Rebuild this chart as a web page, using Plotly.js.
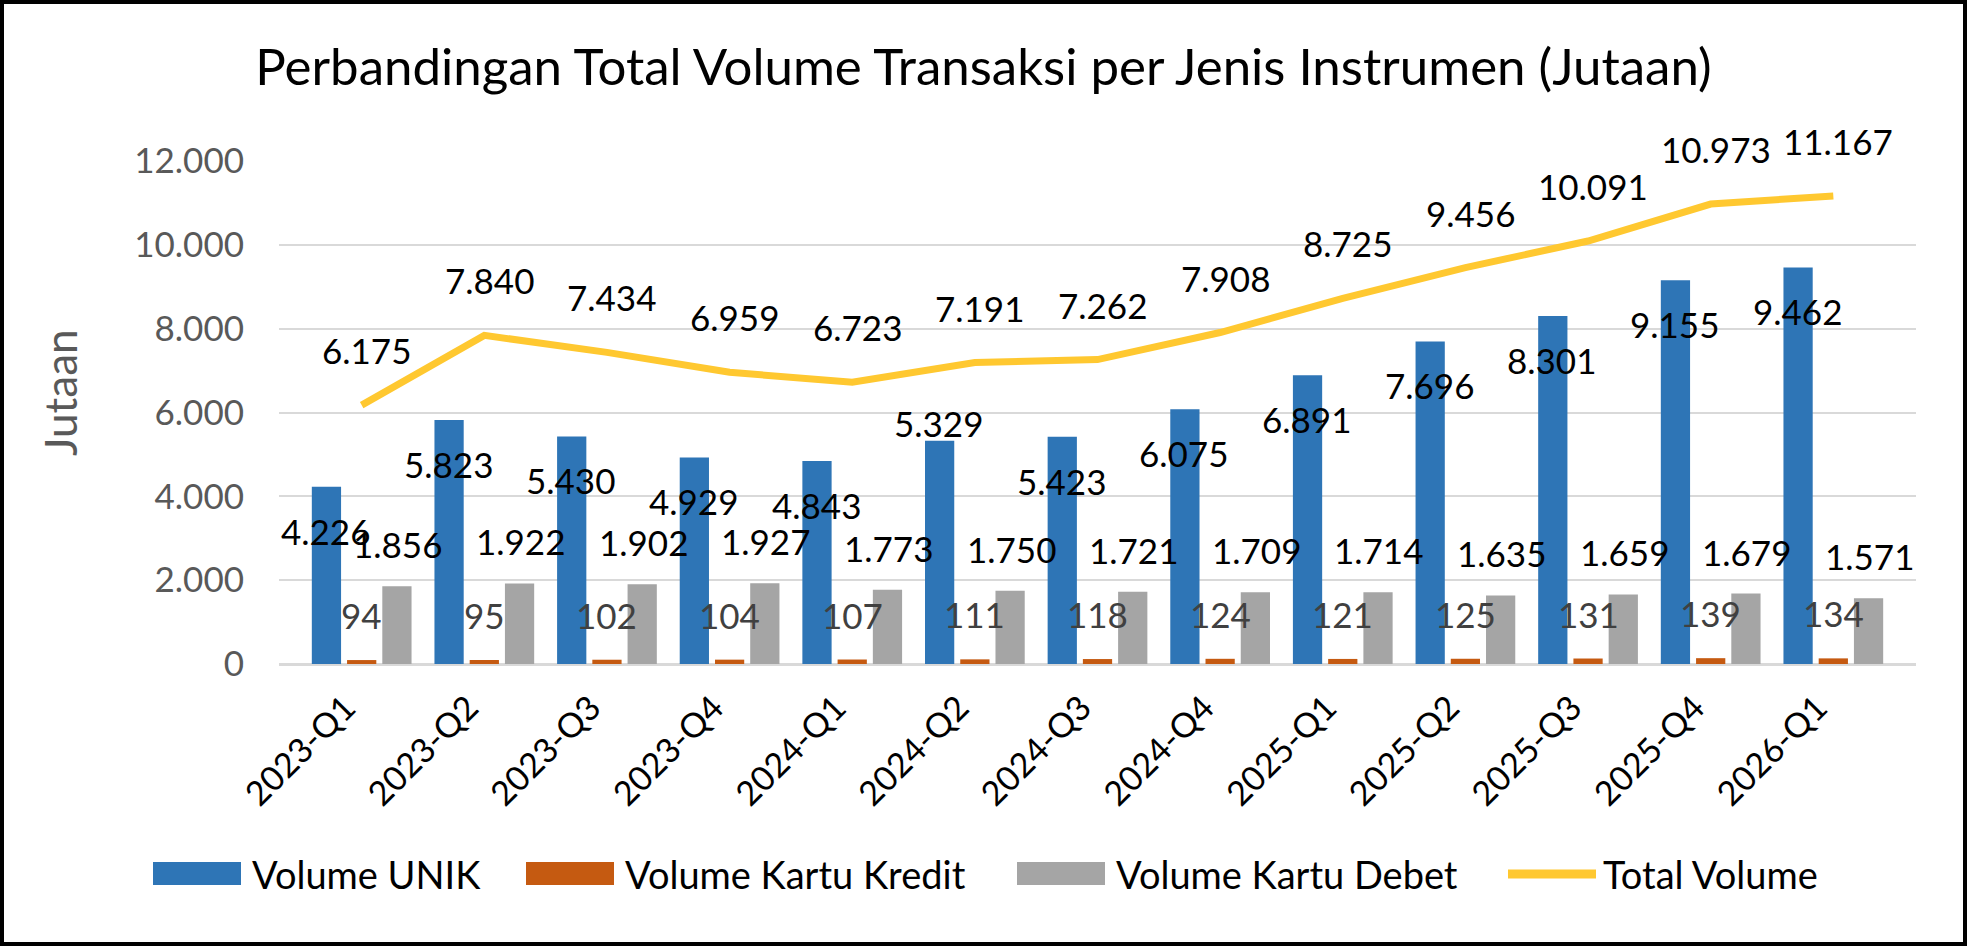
<!DOCTYPE html>
<html>
<head>
<meta charset="utf-8">
<script src="https://cdn.plot.ly/plotly-3.0.1.min.js"></script>
<style>
  body { margin: 0; background: #fff; }
  #chart { width: 1967px; height: 946px; }
  #frame { position: absolute; left: 0; top: 0; width: 1967px; height: 946px;
           border: 4px solid #000; box-sizing: border-box; pointer-events: none; }
</style>
</head>
<body>
<div id="chart"></div>
<div id="frame"></div>
<script>
// data (juta transaksi)
const quarters = ['2023-Q1', '2023-Q2', '2023-Q3', '2023-Q4', '2024-Q1', '2024-Q2', '2024-Q3',
                  '2024-Q4', '2025-Q1', '2025-Q2', '2025-Q3', '2025-Q4', '2026-Q1'];
const volUnik   = [4226, 5823, 5430, 4929, 4843, 5329, 5423, 6075, 6891, 7696, 8301, 9155, 9462];
const volKredit = [94, 95, 102, 104, 107, 111, 118, 124, 121, 125, 131, 139, 134];
const volDebet  = [1856, 1922, 1902, 1927, 1773, 1750, 1721, 1709, 1714, 1635, 1659, 1679, 1571];
const volTotal  = [6175, 7840, 7434, 6959, 6723, 7191, 7262, 7908, 8725, 9456, 10091, 10973, 11167];

const FONT = 'Lato, "Open Sans", sans-serif';
const W = 1967, H = 946;
const margin = {l: 279, r: 51, t: 161, b: 282};
const bargap = 0.138, bargroupgap = 0.17;

const plotW = W - margin.l - margin.r;
const plotH = H - margin.t - margin.b;
// largeur d'un "slot" de barre, pour décaler les étiquettes
const slot = (plotW / quarters.length) * (1 - bargap) / 3;

// pixels -> coordonnées paper
const px = x => (x - margin.l) / plotW;
const py = y => (H - margin.b - y) / plotH;

// séparateur de milliers "."
function fmt(v) {
    return String(v).replace(/\B(?=(\d{3})+(?!\d))/g, '.');
}

// l'étiquette de 2024-Q2 est posée au-dessus de la barre, les autres dedans
const unikLabelAbove = ['2024-Q2'];

function labels(values, xshift, yshift, color) {
    return values.map((v, i) => ({
        x: quarters[i], y: v, xref: 'x', yref: 'y',
        text: fmt(v), showarrow: false,
        xshift: xshift,
        yshift: (typeof yshift === 'function') ? yshift(i) : yshift,
        yanchor: 'middle',
        font: {family: FONT, size: 35, color: color}
    }));
}

let data = [
    {
        type: 'bar', name: 'Volume UNIK', x: quarters, y: volUnik,
        marker: {color: '#2E75B6'}, hoverinfo: 'skip'
    },
    {
        type: 'bar', name: 'Volume Kartu Kredit', x: quarters, y: volKredit,
        marker: {color: '#C55A11'}, hoverinfo: 'skip'
    },
    {
        type: 'bar', name: 'Volume Kartu Debet', x: quarters, y: volDebet,
        marker: {color: '#A5A5A5'}, hoverinfo: 'skip'
    },
    {
        type: 'scatter', mode: 'lines', name: 'Total Volume', x: quarters, y: volTotal,
        line: {color: '#FFC830', width: 7}, hoverinfo: 'skip'
    }
];

let annotations = [].concat(
    labels(volUnik, -slot, i => unikLabelAbove.includes(quarters[i]) ? 18 : -44, '#000'),
    labels(volKredit, 0, 45, '#404040'),
    labels(volDebet, slot, 42, '#000'),
    labels(volTotal, 5, 55, '#000')
);

// titre de l'axe Y, un peu au-dessus du milieu comme dans Excel
annotations.push({
    xref: 'paper', yref: 'paper', x: px(60), y: py(392),
    xanchor: 'center', yanchor: 'middle', textangle: -90, showarrow: false,
    text: 'Jutaan', font: {family: FONT, size: 44, color: '#595959'}
});

// légende façon Excel : grands rectangles et trait épais
const legendLeft = [153, 526, 1017, 1504];
const legendMid = 874;
let shapes = [];
data.forEach((tr, i) => {
    let x0 = legendLeft[i];
    if (tr.type === 'bar') {
        shapes.push({
            type: 'rect', xref: 'paper', yref: 'paper',
            x0: px(x0), x1: px(x0 + 88), y0: py(legendMid - 12), y1: py(legendMid + 11),
            fillcolor: tr.marker.color, line: {width: 0}
        });
    } else {
        shapes.push({
            type: 'line', xref: 'paper', yref: 'paper',
            x0: px(x0 + 4), x1: px(x0 + 92), y0: py(legendMid), y1: py(legendMid),
            line: {color: tr.line.color, width: 9}
        });
    }
    annotations.push({
        xref: 'paper', yref: 'paper', x: px(x0 + 97), y: py(legendMid),
        xanchor: 'left', yanchor: 'middle', showarrow: false,
        text: tr.name, font: {family: FONT, size: 38, color: '#000'}
    });
});

let layout = {
    width: W, height: H,
    margin: margin,
    paper_bgcolor: '#fff', plot_bgcolor: '#fff',
    font: {family: FONT, color: '#000'},
    separators: ',.',
    showlegend: false,
    barmode: 'group',
    bargap: bargap,
    bargroupgap: bargroupgap,
    title: {
        text: 'Perbandingan Total Volume Transaksi per Jenis Instrumen (Jutaan)',
        font: {family: FONT, size: 51, color: '#000'},
        x: 0.5, xref: 'container', xanchor: 'center',
        y: 1 - 67 / H, yref: 'container', yanchor: 'middle'
    },
    xaxis: {
        type: 'category',
        tickangle: -45,
        ticks: '', showline: false, showgrid: false,
        ticklabelstandoff: 16,
        ticklabelshift: -16,
        tickfont: {family: FONT, size: 34, color: '#000'}
    },
    yaxis: {
        range: [0, 12000], dtick: 2000, tickformat: ',d',
        showgrid: true, gridcolor: '#D9D9D9', gridwidth: 2,
        zeroline: true, zerolinecolor: '#D9D9D9', zerolinewidth: 3,
        showline: false, ticks: '',
        ticklabelstandoff: 34,
        tickfont: {family: FONT, size: 35, color: '#595959'}
    },
    shapes: shapes,
    annotations: annotations
};

Plotly.newPlot('chart', data, layout, {staticPlot: true, displayModeBar: false});
</script>
</body>
</html>
